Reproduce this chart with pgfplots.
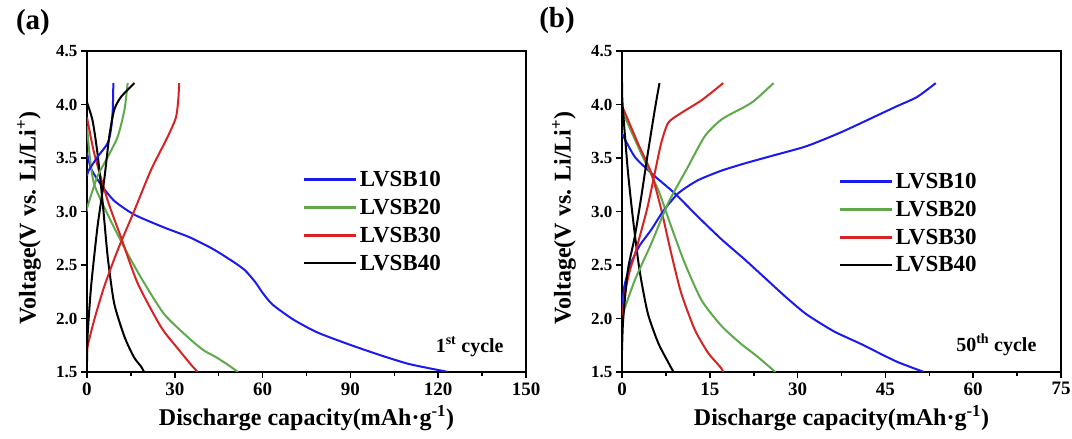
\documentclass[border=0pt]{standalone}
\usepackage{fontspec}
\setmainfont{Liberation Serif}
\usepackage{pgfplots}
\pgfplotsset{compat=1.18}
\definecolor{cblue}{RGB}{25,25,240}
\definecolor{cgreen}{RGB}{95,168,75}
\definecolor{cred}{RGB}{215,35,35}
\pgfplotsset{
  myaxis/.style={
    scale only axis, width=439pt, height=321pt,
    ymin=1.5, ymax=4.5, ytick={1.5,2,...,4.5},
    axis line style={line width=2.4pt},
    tick style={line width=1.6pt, black},
    tick align=outside,
    major tick length=6pt, minor tick length=4.5pt,
    xtick pos=bottom, ytick pos=left,
    minor x tick num=1,
    /pgf/number format/assume math mode=true,
    xticklabel style={font=\fontsize{19}{21}\selectfont\bfseries, yshift=-1pt},
    yticklabel style={font=\fontsize{17}{19}\selectfont\bfseries,
      /pgf/number format/.cd, fixed, fixed zerofill, precision=1},
    label style={font=\fontsize{24}{27}\selectfont\bfseries},
    xlabel={Discharge capacity(mAh·g\textsuperscript{-1})},
    ylabel={Voltage(V vs. Li/Li\textsuperscript{+})},
    xlabel style={at={(axis description cs:0.5,-0.143)}, anchor=center},
    ylabel style={at={(axis description cs:-0.132,0.48)}, anchor=center},
    legend cell align=left,
    legend style={draw=none, fill=none, font=\fontsize{23}{26}\selectfont\bfseries,
      row sep=7pt, inner sep=0pt},
    legend image code/.code={\draw[#1, line width=2.6pt] (0pt,0pt) -- (52pt,0pt);},
    every axis plot/.append style={line width=2pt, smooth, tension=0.4},
  }
}
\begin{document}
\begin{tikzpicture}
\path[use as bounding box] (-87pt,-67pt) rectangle (985pt,372pt);
\node[font=\fontsize{29}{32}\selectfont\bfseries] at (-54pt,349pt) {(a)};
\node[font=\fontsize{29}{32}\selectfont\bfseries] at (470pt,351pt) {(b)};
\begin{axis}[myaxis, at={(0pt,0pt)}, anchor=south west,
  xmin=0, xmax=150, xtick={0,30,...,150},
  legend style={at={(0.492,0.632)}, anchor=north west}]
\addplot[cblue] coordinates {(0,3.55)(1.4,3.40)(4.8,3.25)(9.3,3.1)(16.2,2.97)(26.4,2.85)(35,2.76)(43,2.65)(50,2.53)(54,2.45)(57.5,2.34)(60,2.24)(63.4,2.13)(70.5,1.99)(78.7,1.87)(89.3,1.76)(99.9,1.66)(109.3,1.58)(116,1.54)(123.5,1.5)};
\addlegendentry{LVSB10}
\addplot[cgreen] coordinates {(0,3.8)(1,3.5)(2.5,3.25)(7.1,2.97)(12.8,2.66)(18.5,2.38)(26.4,2.04)(35.5,1.8)(40,1.7)(44,1.64)(48,1.57)(51.6,1.5)};
\addlegendentry{LVSB20}
\addplot[cred] coordinates {(0,3.88)(2.5,3.54)(7.1,3.1)(11.6,2.76)(17.3,2.33)(25.3,1.92)(31,1.72)(35.5,1.57)(37.8,1.5)};
\addlegendentry{LVSB30}
\addplot[black] coordinates {(0,4.02)(1.9,3.85)(3.6,3.54)(5.4,3.07)(7.1,2.57)(9.3,2.14)(12.8,1.83)(16,1.64)(18.5,1.55)(19.5,1.5)};
\addlegendentry{LVSB40}
\addplot[cblue, forget plot] coordinates {(0,3.33)(0.5,3.38)(3.6,3.51)(7.1,3.64)(8.2,3.77)(8.8,3.95)(9,4.2)};
\addplot[cgreen, forget plot] coordinates {(0,3.0)(0.2,3.05)(3.6,3.33)(7.1,3.51)(10.5,3.7)(12.8,3.95)(13.9,4.2)};
\addplot[cred, forget plot] coordinates {(0,1.65)(0.2,1.74)(2.5,1.99)(5.9,2.3)(10.5,2.64)(16.2,3.01)(21.9,3.39)(27.6,3.7)(30.4,3.88)(31.2,4.05)(31.5,4.2)};
\addplot[black, forget plot] coordinates {(0,1.6)(0.2,1.84)(1.4,2.3)(3.6,2.86)(5.9,3.3)(7.6,3.7)(9.3,3.95)(11.6,4.07)(16.2,4.2)};
\node[anchor=east, font=\fontsize{20}{23}\selectfont\bfseries] at (rel axis cs:0.957,0.078) {1\textsuperscript{st} cycle};
\end{axis}
\begin{axis}[myaxis, at={(535pt,0pt)}, anchor=south west,
  xmin=0, xmax=75, xtick={0,15,...,75},
  legend style={at={(0.494,0.626)}, anchor=north west}]
\addplot[cblue] coordinates {(0,3.73)(2.2,3.51)(5.6,3.33)(9,3.17)(13,2.95)(17,2.74)(21,2.55)(24.4,2.38)(28,2.2)(31.5,2.04)(36.2,1.88)(40.9,1.76)(46.8,1.6)(51.6,1.5)};
\addlegendentry{LVSB10}
\addplot[cgreen] coordinates {(0,3.92)(0.5,3.88)(3.3,3.54)(6.2,3.2)(8.4,2.86)(10.7,2.52)(13.6,2.17)(17,1.93)(20.4,1.76)(23,1.65)(26.2,1.5)};
\addlegendentry{LVSB20}
\addplot[cred] coordinates {(0,3.97)(0.3,3.95)(2.7,3.64)(5,3.36)(6.7,3.02)(8.4,2.61)(10.1,2.24)(12.4,1.9)(14.7,1.68)(16.9,1.54)(17.3,1.5)};
\addlegendentry{LVSB30}
\addplot[black] coordinates {(0,4.2)(0.1,4.0)(1.0,3.38)(1.9,2.92)(3.0,2.45)(4.4,2.05)(6.2,1.77)(8.1,1.57)(8.8,1.5)};
\addlegendentry{LVSB40}
\addplot[cblue, forget plot] coordinates {(0,2.1)(0.4,2.3)(1.4,2.5)(3,2.68)(5,2.83)(7,3.0)(9.6,3.17)(12.9,3.29)(16.9,3.38)(21,3.45)(25.6,3.52)(31.5,3.61)(37.4,3.74)(43.3,3.89)(46.8,3.98)(50.4,4.07)(53.6,4.2)};
\addplot[cgreen, forget plot] coordinates {(0,2.02)(2.2,2.36)(5,2.7)(7.9,3.08)(11.3,3.42)(14.1,3.7)(17,3.86)(21,3.98)(22.7,4.04)(25.9,4.2)};
\addplot[cred, forget plot] coordinates {(0,1.93)(0.4,2.2)(1.2,2.42)(2.2,2.6)(3.3,2.82)(4.4,3.05)(5.6,3.36)(6.7,3.64)(7.9,3.83)(10.1,3.92)(13.6,4.04)(17.3,4.2)};
\addplot[black, forget plot] coordinates {(0,1.7)(0.2,1.99)(1.0,2.45)(2.2,2.77)(3.3,3.14)(4.4,3.54)(5.6,3.95)(6.4,4.2)};
\node[anchor=east, font=\fontsize{20}{23}\selectfont\bfseries] at (rel axis cs:0.952,0.084) {50\textsuperscript{th} cycle};
\end{axis}
\end{tikzpicture}
\end{document}
